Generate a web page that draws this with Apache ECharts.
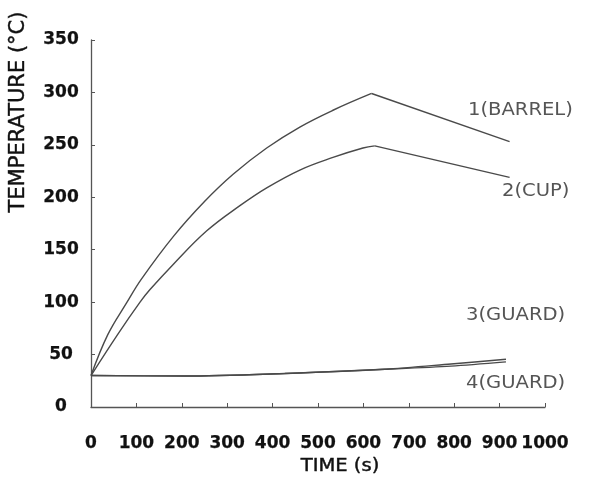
<!DOCTYPE html>
<html>
<head>
<meta charset="utf-8">
<script src="https://cdn.jsdelivr.net/npm/echarts@6/dist/echarts.min.js"></script>
<style>
html,body{margin:0;padding:0;background:#fff;}
#chart{width:592px;height:481px;}
</style>
</head>
<body>
<div id="chart"></div>
<script>
// Data (time in s, temperature in °C)
const xTicks = [0, 100, 200, 300, 400, 500, 600, 700, 800, 900, 1000];
const yTicks = [0, 50, 100, 150, 200, 250, 300, 350];

const barrelTime = [0, 37, 78, 111, 182, 250, 313, 387, 460, 533, 618, 922];
const barrelTemp = [30, 69, 99, 122, 163, 196, 222, 247, 267, 283, 299, 253];

const cupTime = [0, 60, 108, 130, 181, 255, 328, 387, 460, 533, 599, 625, 922];
const cupTemp = [30, 70, 100, 112, 136, 168, 192, 209, 226, 238, 247, 249, 219];

const guardTime = [0, 207, 427, 647, 793, 914];
const guard3Temp = [30, 29.5, 32, 36, 41, 45.5];
const guard4Temp = [30, 29.5, 32, 36, 39, 43];

const seriesNames = ['1(BARREL)', '2(CUP)', '3(GUARD)', '4(GUARD)'];
const xTitle = 'TIME (s)';
const yTitle = 'TEMPERATURE (°C)';

function pairs(xs, ys) { return xs.map((x, i) => [x, ys[i]]); }
function peakIndex(ys) { let k = 0; ys.forEach((v, i) => { if (v > ys[k]) k = i; }); return k; }

const lineColor = '#4a4a4a';
const axisColor = '#555';
const labelFont = 'DejaVu Sans';

const chart = echarts.init(document.getElementById('chart'), null, {renderer: 'canvas'});

function mkSeries(name, data, smooth) {
  return {
    name: name, type: 'line', data: data, showSymbol: false, smooth: smooth,
    lineStyle: {color: lineColor, width: 1.4}, silent: true
  };
}

// heating part drawn smooth, cooling part straight (sharp peak)
function splitSeries(name, xs, ys) {
  const all = pairs(xs, ys);
  const k = peakIndex(ys);
  return [mkSeries(name, all.slice(0, k + 1), 0.4), mkSeries(name, all.slice(k), false)];
}

const tickLabelStyle = {
  color: '#111', fontFamily: labelFont, fontWeight: 'bold', fontSize: 17,
  textBorderColor: '#111', textBorderWidth: 0.25,
  formatter: v => String(v)
};

const option = {
  animation: false,
  backgroundColor: '#fff',
  grid: {left: 91, right: 47, top: 40, bottom: 74},
  xAxis: {
    type: 'value', min: xTicks[0], max: xTicks[xTicks.length - 1], interval: 100,
    axisLine: {show: true, lineStyle: {color: axisColor, width: 1.3}},
    axisTick: {show: true, inside: true, length: 4, lineStyle: {color: axisColor}},
    splitLine: {show: false},
    axisLabel: Object.assign({margin: 28}, tickLabelStyle)
  },
  yAxis: {
    type: 'value', min: yTicks[0], max: yTicks[yTicks.length - 1], interval: 50,
    axisLine: {show: true, lineStyle: {color: axisColor, width: 1.3}},
    axisTick: {show: true, inside: true, length: 4, lineStyle: {color: axisColor}},
    splitLine: {show: false},
    axisLabel: Object.assign({margin: 30, align: 'center'}, tickLabelStyle)
  },
  series: [
    ...splitSeries(seriesNames[0], barrelTime, barrelTemp),
    ...splitSeries(seriesNames[1], cupTime, cupTemp),
    mkSeries(seriesNames[2], pairs(guardTime, guard3Temp), 0.3),
    mkSeries(seriesNames[3], pairs(guardTime, guard4Temp), 0.3)
  ],
  graphic: [
    {type: 'text', x: 19, y: 112, rotation: Math.PI / 2,
     style: {text: yTitle, font: '21px "DejaVu Sans"', fill: '#111', stroke: '#111', lineWidth: 0.4,
             align: 'center', verticalAlign: 'middle'}},
    {type: 'text', x: 340, y: 467, scaleX: 1.15,
     style: {text: xTitle, font: '17px "DejaVu Sans"', fill: '#111', stroke: '#111', lineWidth: 0.4,
             align: 'center', verticalAlign: 'middle'}},
    {type: 'text', x: 468, y: 111, scaleX: 1.15,
     style: {text: seriesNames[0], font: '17px "DejaVu Sans"', fill: '#555', align: 'left', verticalAlign: 'middle'}},
    {type: 'text', x: 502, y: 192, scaleX: 1.15,
     style: {text: seriesNames[1], font: '17px "DejaVu Sans"', fill: '#555', align: 'left', verticalAlign: 'middle'}},
    {type: 'text', x: 466, y: 316, scaleX: 1.15,
     style: {text: seriesNames[2], font: '17px "DejaVu Sans"', fill: '#555', align: 'left', verticalAlign: 'middle'}},
    {type: 'text', x: 466, y: 384, scaleX: 1.15,
     style: {text: seriesNames[3], font: '17px "DejaVu Sans"', fill: '#555', align: 'left', verticalAlign: 'middle'}}
  ]
};
chart.setOption(option);
</script>
</body>
</html>
